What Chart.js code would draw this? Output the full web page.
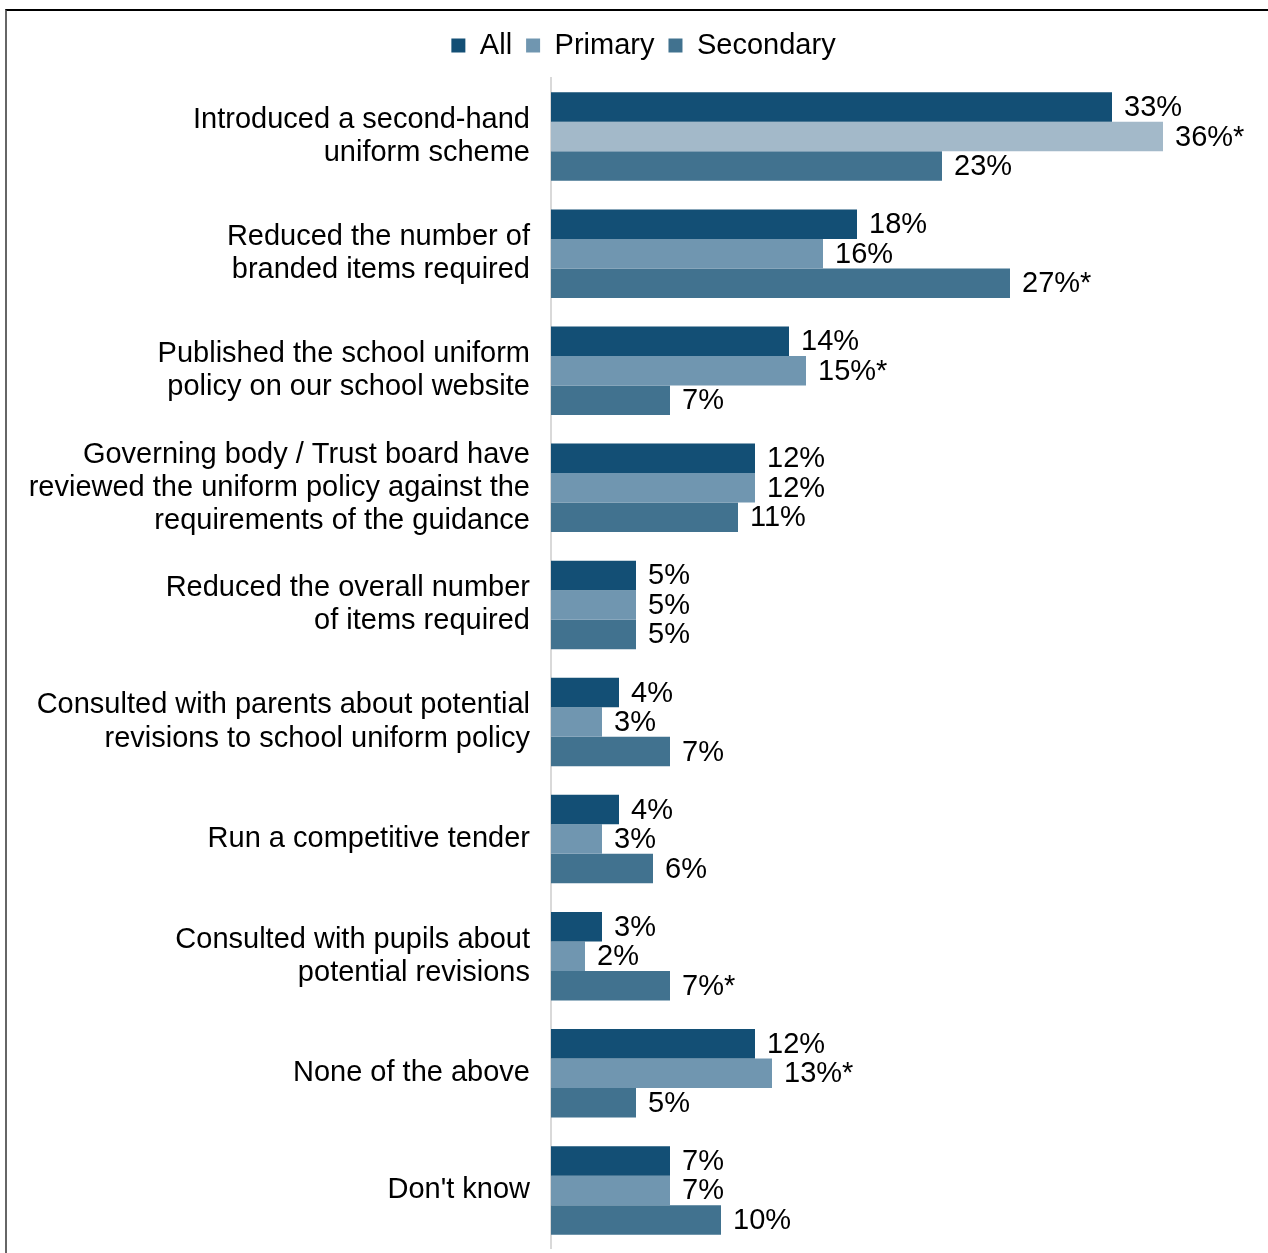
<!DOCTYPE html>
<html>
<head>
<meta charset="utf-8">
<script src="https://cdn.jsdelivr.net/npm/chart.js@4.4.0/dist/chart.umd.min.js"></script>
<style>
    html, body { margin: 0; padding: 0; background: #fff; overflow: hidden; }
    #marco { position: absolute; left: 5px; top: 9px; width: 1400px; height: 1400px;
             border-top: 2px solid #000; border-left: 2px solid #666; }
    #contenedor { position: absolute; left: 0; top: 0; width: 1268px; height: 1303px; }
</style>
</head>
<body>
<div id="marco"></div>
<div id="contenedor"><canvas id="graficoBarras"></canvas></div>
<script>
// Categorías (una línea por fila del eje)
const categorias = [
    ['Introduced a second-hand', 'uniform scheme'],
    ['Reduced the number of', 'branded items required'],
    ['Published the school uniform', 'policy on our school website'],
    ['Governing body / Trust board have', 'reviewed the uniform policy against the', 'requirements of the guidance'],
    ['Reduced the overall number', 'of items required'],
    ['Consulted with parents about potential', 'revisions to school uniform policy'],
    'Run a competitive tender',
    ['Consulted with pupils about', 'potential revisions'],
    'None of the above',
    "Don't know"
];
const valoresAll = [33, 18, 14, 12, 5, 4, 4, 3, 12, 7];
const valoresPrimary = [36, 16, 15, 12, 5, 3, 3, 2, 13, 7];
const valoresSecondary = [23, 27, 7, 11, 5, 7, 6, 7, 5, 10];
// Diferencias significativas (se marcan con *)
const marcasAll = [false, false, false, false, false, false, false, false, false, false];
const marcasPrimary = [true, false, true, false, false, false, false, false, true, false];
const marcasSecondary = [false, true, false, false, false, false, false, true, false, false];

const fuente = '"Liberation Sans", Arial, sans-serif';
const colorAll = '#134f75';
const colorPrimary = valoresPrimary.map((v, i) => i === 0 ? '#a3b9c9' : '#7096b0');
const colorSecondary = '#41728f';

// Etiquetas de valor al final de cada barra
const etiquetasBarras = {
    id: 'etiquetasBarras',
    afterDatasetsDraw(chart) {
        const ctx = chart.ctx;
        ctx.save();
        ctx.font = '29px ' + fuente;
        ctx.fillStyle = '#000';
        ctx.textBaseline = 'middle';
        ctx.textAlign = 'left';
        chart.data.datasets.forEach((ds, i) => {
            chart.getDatasetMeta(i).data.forEach((barra, j) => {
                const texto = ds.data[j] + '%' + (ds.marcas[j] ? '*' : '');
                ctx.fillText(texto, barra.x + 12, barra.y + 1);
            });
        });
        ctx.restore();
    }
};

const ctx = document.getElementById('graficoBarras').getContext('2d');
new Chart(ctx, {
    type: 'bar',
    data: {
        labels: categorias,
        datasets: [
            { label: 'All', data: valoresAll, marcas: marcasAll, backgroundColor: colorAll },
            { label: 'Primary', data: valoresPrimary, marcas: marcasPrimary, backgroundColor: colorPrimary },
            { label: 'Secondary', data: valoresSecondary, marcas: marcasSecondary, backgroundColor: colorSecondary }
        ]
    },
    options: {
        indexAxis: 'y',
        responsive: true,
        maintainAspectRatio: false,
        animation: false,
        categoryPercentage: 0.756,
        barPercentage: 1,
        layout: { padding: { top: 17, right: 3, bottom: 0, left: 22 } },
        scales: {
            x: {
                position: 'top',
                min: 0,
                max: 42,
                grid: { display: false },
                border: { display: false },
                ticks: { display: false },
                afterFit(scale) { scale.height = 8; }
            },
            y: {
                grid: { display: false, drawTicks: false },
                border: { color: '#d9d9d9', width: 2 },
                ticks: { color: '#000', padding: 21, font: { family: fuente, size: 29, lineHeight: 1.14 } },
                afterFit(scale) { scale.width = 529; }
            }
        },
        plugins: {
            legend: {
                position: 'top',
                labels: {
                    color: '#000',
                    boxWidth: 14,
                    boxHeight: 14,
                    padding: 14,
                    font: { family: fuente, size: 29 },
                    generateLabels(chart) {
                        return chart.data.datasets.map((ds, i) => ({
                            text: ds.label,
                            fillStyle: i === 1 ? '#7096b0' : ds.backgroundColor,
                            strokeStyle: 'rgba(0,0,0,0)',
                            lineWidth: 0,
                            datasetIndex: i
                        }));
                    }
                }
            },
            tooltip: { enabled: false }
        }
    },
    plugins: [etiquetasBarras]
});
</script>
</body>
</html>
